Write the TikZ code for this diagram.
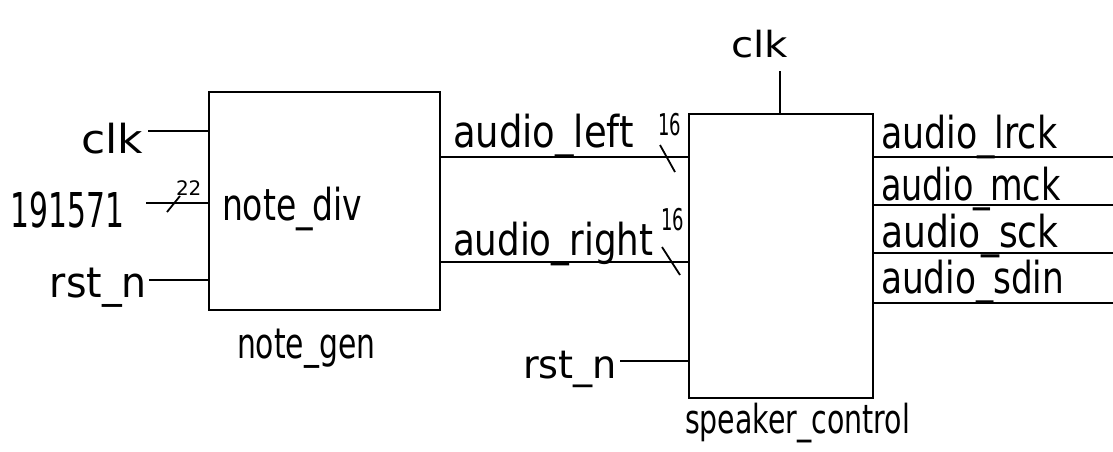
\documentclass[tikz,border=0pt]{standalone}
\usepackage{fontspec}
\setmainfont{DejaVu Sans}
\newcommand\hw[2]{\scalebox{#1}[1]{#2}}
\tikzset{
  wire/.style={line width=2.4pt},
  blk/.style={draw, line width=2.5pt, anchor=north west, inner sep=0pt, outer sep=0pt},
  lbl/.style={inner sep=0pt, outer sep=0pt, font=\fontsize{44}{50}\selectfont},
  tick/.style={line width=1.8pt},
}
\begin{document}
\begin{tikzpicture}[x=1pt,y=-1pt]
\useasboundingbox[fill=white] (0,0) rectangle (1113,452);
% blocks
\node[blk, minimum width=231pt, minimum height=218pt] (ng) at (209,92) {};
\node[blk, minimum width=184pt, minimum height=284pt] (sc) at (689,114) {};
% note_gen labels
\node[lbl, anchor=base east, font=\fontsize{40}{44}\selectfont] (clkA) at (143,153) {\hw{1.1}{clk}};
\node[lbl, anchor=base east, font=\fontsize{48}{54}\selectfont] (num) at (124,227) {\hw{0.62}{191571}};
\node[lbl, anchor=base east, font=\fontsize{42}{48}\selectfont] (rstA) at (147,297) {\hw{0.94}{rst\_n}};
\node[lbl, anchor=base west] (nd) at (222,220) {\hw{0.75}{note\_div}};
\node[lbl, anchor=base west, font=\fontsize{42}{48}\selectfont] (ngl) at (237,358) {\hw{0.71}{note\_gen}};
\node[lbl, anchor=base west, font=\fontsize{20}{24}\selectfont] (w22) at (176,195) {22};
% inputs of note_gen
\coordinate (iclk) at (148,131);
\coordinate (inum) at (146,203);
\coordinate (irst) at (149,280);
\draw[wire] (iclk) -- (iclk -| ng.west);
\draw[wire] (inum) -- (inum -| ng.west);
\draw[wire] (irst) -- (irst -| ng.west);
\draw[tick] (167,212) -- (180,196);
% audio buses
\node[lbl, anchor=base west] (al) at (453,147) {\hw{0.84}{audio\_left}};
\node[lbl, anchor=base west] (ar) at (453,255) {\hw{0.81}{audio\_right}};
\node[lbl, anchor=base west, font=\fontsize{30}{34}\selectfont] (w16a) at (658,135) {\hw{0.6}{16}};
\node[lbl, anchor=base west, font=\fontsize{30}{34}\selectfont] (w16b) at (661,230) {\hw{0.6}{16}};
\coordinate (bl) at (440,157);
\coordinate (br) at (440,262);
\draw[wire] (bl -| ng.east) -- (bl -| sc.west);
\draw[wire] (br -| ng.east) -- (br -| sc.west);
\draw[tick] (660,145) -- (675,172);
\draw[tick] (662,247) -- (680,275);
% speaker_control clk and rst
\node[lbl, anchor=base west, font=\fontsize{36}{42}\selectfont] (clkB) at (731,58) {\hw{1.12}{clk}};
\coordinate (tclk) at (780,71);
\draw[wire] (tclk) -- (tclk |- sc.north);
\node[lbl, anchor=base east, font=\fontsize{39}{44}\selectfont] (rstB) at (617,378) {\hw{0.98}{rst\_n}};
\coordinate (irst2) at (620,361);
\draw[wire] (irst2) -- (irst2 -| sc.west);
\node[lbl, anchor=base west, font=\fontsize{40}{46}\selectfont] (scl) at (685,433) {\hw{0.71}{speaker\_control}};
% outputs
\node[lbl, anchor=base west] (o1t) at (881,148) {\hw{0.79}{audio\_lrck}};
\node[lbl, anchor=base west] (o2t) at (881,200) {\hw{0.76}{audio\_mck}};
\node[lbl, anchor=base west] (o3t) at (881,247) {\hw{0.82}{audio\_sck}};
\node[lbl, anchor=base west] (o4t) at (881,293) {\hw{0.78}{audio\_sdin}};
\coordinate (o1) at (1113,157);
\coordinate (o2) at (1113,205);
\coordinate (o3) at (1113,253);
\coordinate (o4) at (1113,303);
\draw[wire] (o1 -| sc.east) -- (o1);
\draw[wire] (o2 -| sc.east) -- (o2);
\draw[wire] (o3 -| sc.east) -- (o3);
\draw[wire] (o4 -| sc.east) -- (o4);
\end{tikzpicture}
\end{document}
